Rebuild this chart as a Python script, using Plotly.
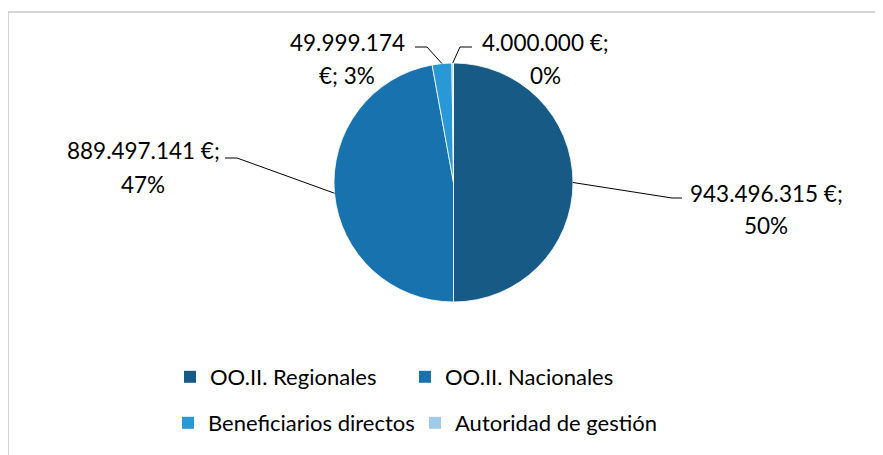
import math
import plotly.graph_objects as go

# ---------------- data ----------------
categories = ["OO.II. Regionales", "OO.II. Nacionales", "Beneficiarios directos", "Autoridad de gestión"]
amounts = [943496315, 889497141, 49999174, 4000000]
colors = ["#165A85", "#1872AD", "#2A98D6", "#9DCBE9"]

# ---------------- layout constants (page pixels) ----------------
W, H = 883, 455
OFF = 8  # default body margin of the html page
CX, CY, R = 453.5, 182.5, 119.5
FONT = "Lato"
FS_LABEL = 22.5
FS_LEGEND = 22

label_layout = [
    dict(cx=766, y1=193, y2=225, elbow=(672, 198), end=682, split="euro"),
    dict(cx=143, y1=150, y2=185, elbow=(237, 158), end=225, split="euro"),
    dict(cx=347, y1=43, y2=75, elbow=(427, 47), end=415, split="number"),
    dict(cx=545, y1=43, y2=75, elbow=(460, 47), end=472, split="euro"),
]


def px(x):
    return (x - OFF) / W


def py(y):
    return 1 - (y - OFF) / H


def fmt(v):
    return f"{v:,}".replace(",", ".")


total = sum(amounts)

fig = go.Figure()
fig.add_trace(go.Pie(
    labels=categories,
    values=amounts,
    marker=dict(colors=colors, line=dict(color="white", width=0.8)),
    sort=False,
    direction="clockwise",
    rotation=0,
    textinfo="none",
    hoverinfo="label+value+percent",
    showlegend=False,
    domain=dict(x=[px(CX - R), px(CX + R)], y=[py(CY + R), py(CY - R)]),
))

# legend entries (two legend rows)
for i, (cat, col) in enumerate(zip(categories, colors)):
    fig.add_trace(go.Scatter(
        x=[None], y=[None], mode="markers", name=cat,
        marker=dict(symbol="square", color=col, size=12),
        legend="legend" if i < 2 else "legend2",
        showlegend=True,
    ))

shapes = []
annotations = []
cum = 0
for v, lay in zip(amounts, label_layout):
    mid = (cum + v / 2) / total * 2 * math.pi
    cum += v
    sx = CX + R * math.sin(mid)
    sy = CY - R * math.cos(mid)
    ex, ey = lay["elbow"]
    path = f"M {px(sx)},{py(sy)} L {px(ex)},{py(ey)} L {px(lay['end'])},{py(ey)}"
    shapes.append(dict(type="path", xref="paper", yref="paper", path=path,
                       line=dict(color="black", width=1)))
    pct = round(v / total * 100)
    if lay["split"] == "euro":
        l1, l2 = f"{fmt(v)} €;", f"{pct}%"
    else:
        l1, l2 = f"{fmt(v)}", f"€; {pct}%"
    for txt, yy in ((l1, lay["y1"]), (l2, lay["y2"])):
        annotations.append(dict(text=txt, x=px(lay["cx"]), y=py(yy), xref="paper", yref="paper",
                                xanchor="center", yanchor="middle", showarrow=False,
                                font=dict(family=FONT, size=FS_LABEL, color="black")))

# chart border
shapes.append(dict(type="rect", xref="paper", yref="paper", x0=px(8), x1=px(W + 20),
                   y0=py(H + 20), y1=py(12), line=dict(color="#C8C8C8", width=1.5)))

legend_common = dict(orientation="h", xanchor="left", yanchor="middle",
                     font=dict(family=FONT, size=FS_LEGEND, color="black"), bgcolor="rgba(0,0,0,0)",
                     borderwidth=0, itemclick=False, itemdoubleclick=False)

fig.update_layout(
    width=W, height=H,
    margin=dict(l=0, r=0, t=0, b=0),
    paper_bgcolor="white", plot_bgcolor="white",
    xaxis=dict(visible=False), yaxis=dict(visible=False),
    shapes=shapes, annotations=annotations,
    legend=dict(x=px(170), y=py(377), entrywidth=190, **legend_common),
    legend2=dict(x=px(168), y=py(423), entrywidth=202, **legend_common),
    font=dict(family=FONT),
)

fig.write_html("out.html")
